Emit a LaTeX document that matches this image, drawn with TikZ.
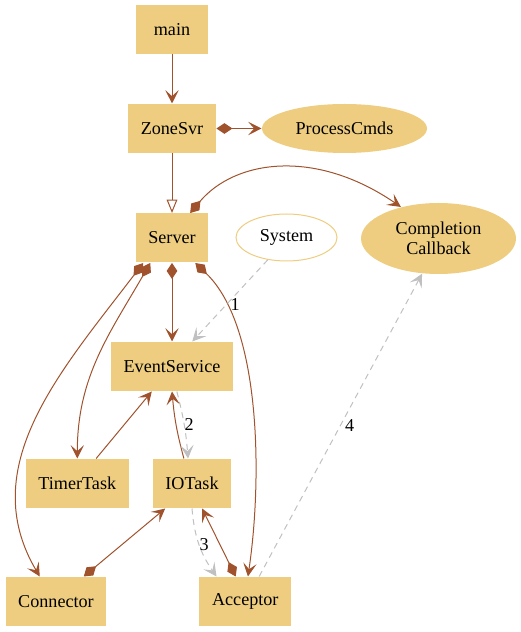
\documentclass[tikz,border=0pt]{standalone}
\usepackage{fontspec}
\setmainfont{Liberation Serif}
\usetikzlibrary{arrows.meta,shapes.geometric}
\definecolor{boxfill}{RGB}{238,205,128}
\definecolor{edgecol}{RGB}{160,82,45}
\definecolor{dashcol}{RGB}{192,192,192}

\begin{document}
\begin{tikzpicture}[x=0.75pt,y=0.75pt,line width=0.75pt,
  >={Stealth[length=10pt,width=10pt,inset=4.5pt]},
  font=\fontsize{13.6}{15}\selectfont]
\tikzset{BoxStyle/.style = {fill=boxfill,rectangle,
                            minimum width=54pt,minimum height=36.75pt,
                            inner xsep=9.5pt},
         OvalStyle/.style = {fill=boxfill,ellipse,inner sep=0pt},
         EdgeStyle/.style = {draw=edgecol},
         HintStyle/.style = {draw=dashcol,dash pattern=on 4.5pt off 3.5pt},
         LabelStyle/.style = {right,inner sep=3pt,text=black},
         dmd/.tip = {Diamond[length=12pt,width=8pt]},
         tri/.tip = {Triangle[open,length=10pt,width=8pt]}}
\useasboundingbox (0,0) rectangle (521,632);
\node[BoxStyle] (main) at (172,602.5) {main};
\node[BoxStyle] (zs)   at (172,503.5) {ZoneSvr};
\node[OvalStyle,minimum width=123.75pt,minimum height=36.75pt] (pc) at (344.5,503.5) {ProcessCmds};
\node[BoxStyle] (srv)  at (172,394) {Server};
\node[OvalStyle,fill=white,draw=boxfill,minimum width=75.75pt,minimum height=35.25pt] (sys) at (286.5,394.5) {System};
\node[OvalStyle,align=center,minimum width=116.25pt,minimum height=53.25pt] (cb) at (438.5,393.5) {Completion\\Callback};
\node[BoxStyle] (es)   at (172,265.5) {EventService};
\node[BoxStyle] (tt)   at (77.3,148.5) {TimerTask};
\node[BoxStyle] (io)   at (192,148.5) {IOTask};
\node[BoxStyle] (con)  at (56,30.5) {Connector};
\node[BoxStyle] (acc)  at (245.3,30.5) {Acceptor};

\draw[EdgeStyle,->] (main) -- (zs);
\draw[EdgeStyle,dmd->] (zs) -- (pc);
\draw[EdgeStyle,-tri] (zs) -- (srv);
\draw[EdgeStyle,dmd->] (srv.54) .. controls (235,472) and (315,484) .. (cb.140);
\draw[EdgeStyle,dmd->] (srv) -- (es);
\draw[EdgeStyle,dmd->] (srv.229) to[out=240,in=90] (tt);
\draw[EdgeStyle,dmd->] (srv.221) .. controls (60,260) and (-25,165) .. (con.123);
\draw[EdgeStyle,dmd->] (srv.313) .. controls (262,305) and (262,150) .. (acc.84);
\draw[EdgeStyle,->] (tt.53) -- (es.231);
\draw[EdgeStyle,->] (io.108) to[bend left=5] (es.south);
\draw[EdgeStyle,dmd->] (con.42) -- (io.223);
\draw[EdgeStyle,dmd->] (acc.111) -- (io.292);

\draw[HintStyle,->] (sys.230) -- node[LabelStyle,pos=0.55]{1} (es.51);
\draw[HintStyle,->] (es.281) to[bend left=5] node[LabelStyle,inner sep=0pt]{2} (io.99);
\draw[HintStyle,->] (io.south) to[bend right=15] node[LabelStyle,inner sep=0pt]{3} (acc.139);
\draw[HintStyle,->] (acc.61) -- node[LabelStyle]{4} (cb.245);
\end{tikzpicture}
\end{document}
